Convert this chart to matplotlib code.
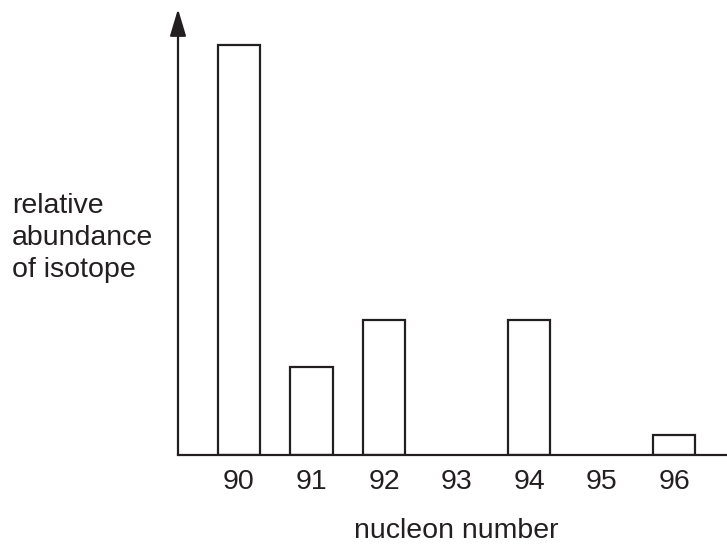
import matplotlib
matplotlib.use('Agg')
import matplotlib.pyplot as plt

plt.rcParams['font.family'] = ['Liberation Sans', 'DejaVu Sans']

# data (relative abundance, tallest bar = 100)
nucleon = [90, 91, 92, 94, 96]
abundance = [100, 21.5, 33, 33, 4.8]
tick_vals = [90, 91, 92, 93, 94, 95, 96]
tick_labels = ['90', '91', '92', '93', '94', '95', '96']

W, H = 727, 545
fig = plt.figure(figsize=(W / 100, H / 100), dpi=100)
fig.patch.set_facecolor('white')

# axes box in pixel terms: left 178, right 727, bottom 455, top 9
ax = fig.add_axes([178 / W, (H - 455) / H, (W - 178) / W, (455 - 9) / H])
ax.set_xlim(89.16, 96.73)
ax.set_ylim(0, 108.8)

ax.bar(nucleon, abundance, width=0.59, fill=False, edgecolor='#231f20', linewidth=1.6)

for s in ['top', 'right', 'left']:
    ax.spines[s].set_visible(False)
ax.spines['bottom'].set_linewidth(1.6)
ax.spines['bottom'].set_color('#231f20')

# y axis with arrow head
ax.annotate('', xy=(0, 1), xytext=(0, 0), xycoords='axes fraction',
            arrowprops=dict(arrowstyle='-|>,head_length=1.1,head_width=0.33',
                            mutation_scale=15, lw=1.6, color='#231f20',
                            shrinkA=0, shrinkB=0))

ax.set_yticks([])
ax.set_xticks(tick_vals)
ax.set_xticklabels(tick_labels, fontsize=20.5, color='#231f20')
ax.tick_params(axis='x', length=0, pad=10)

fig.text(12 / W, (H - 238) / H, 'relative\nabundance\nof isotope', fontsize=20.5,
         color='#231f20', ha='left', va='center', linespacing=1.31)
fig.text(456 / W, (H - 538) / H, 'nucleon number', fontsize=20.5,
         color='#231f20', ha='center', va='baseline')

fig.savefig('out.png', dpi=100)
